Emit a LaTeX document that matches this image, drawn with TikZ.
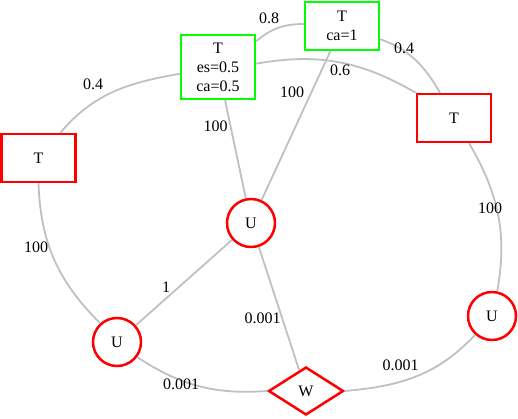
\documentclass[tikz,border=0pt]{standalone}
\usepackage{fontspec}
\setmainfont{Liberation Serif}
\usetikzlibrary{shapes.geometric}
\definecolor{edgegray}{RGB}{192,192,192}
\begin{document}
\begin{tikzpicture}[x=1pt,y=1pt]
    % Node styles
    \tikzset{
      every node/.style={font=\fontsize{16}{19}\selectfont},
      green box/.style={rectangle,draw=green,line width=2.5pt,minimum width=74pt,minimum height=48pt,inner sep=0pt,align=center},
      red box/.style={rectangle,draw=red,line width=2.5pt,minimum width=74pt,minimum height=48pt,inner sep=0pt},
      red circle/.style={circle,draw=red,line width=2.5pt,minimum size=48pt,inner sep=0pt},
      red diamond/.style={diamond,draw=red,line width=2.5pt,minimum width=75pt,minimum height=48pt,inner sep=0pt},
      edge line/.style={draw=edgegray,line width=1.8pt},
      weight/.style={inner sep=0pt}
    }
    \useasboundingbox (0,0) rectangle (518,418);

    % --- Top: the two green T nodes ---
    \node[green box, minimum height=64pt] (t1) at (218, 351) {T\\es=0.5\\ca=0.5};
    \node[green box] (t2) at (342, 392) {T\\ca=1};

    % --- Red T nodes at the sides ---
    \node[red box] (tl) at (38.5, 260) {T};
    \node[red box] (tr) at (454, 300) {T};

    % --- U nodes and the W node ---
    \node[red circle] (uc) at (251, 195) {U};
    \node[red circle] (ubl) at (117, 76) {U};
    \node[red circle] (ur) at (492, 102) {U};
    \node[red diamond] (w) at (306, 27) {W};

    % Edges between the T nodes
    \draw[edge line] (t1.34) to[out=40,in=180] (t2.177);
    \draw[edge line] (t1.5) to[out=10,in=150] (tr.north west);
    \draw[edge line] (t2.-19) to[out=-20,in=120] (tr.119);
    \draw[edge line] (t1.190) to[out=190,in=50] (tl.49);

    % Edges down to the U nodes
    \draw[edge line] (t2) -- (uc);
    \draw[edge line] (t1) -- (uc);
    \draw[edge line] (tl.south) to[out=-88,in=135] (ubl.132);
    \draw[edge line] (tr.-59) to[out=-60,in=80] (ur.78);
    \draw[edge line] (uc) -- (ubl);

    % Edges into W
    \draw[edge line] (uc) -- (w);
    \draw[edge line] (ubl.-37) to[out=-33,in=184] (w.west);
    \draw[edge line] (w.east) to[out=5,in=227] (ur.228);

    % --- Edge weights ---
    \node[weight] (w08) at (269, 400) {0.8};
    \node[weight] (w06) at (340, 348) {0.6};
    \node[weight] (w04r) at (404, 370) {0.4};
    \node[weight] (w04l) at (93, 333.5) {0.4};
    \node[weight] (w100a) at (292, 326) {100};
    \node[weight] (w100b) at (215.5, 291.5) {100};
    \node[weight] (w100c) at (36, 171) {100};
    \node[weight] (w100d) at (490, 210) {100};
    \node[weight] (w1) at (166, 131) {1};
    \node[weight] (w001a) at (262.5, 99.5) {0.001};
    \node[weight] (w001b) at (181, 33.5) {0.001};
    \node[weight] (w001c) at (400.5, 53) {0.001};

  \end{tikzpicture}
\end{document}
